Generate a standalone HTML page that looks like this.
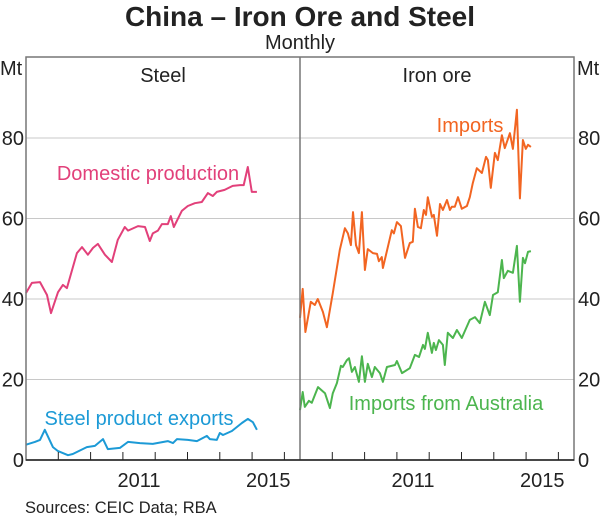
<!DOCTYPE html>
<html><head><meta charset="utf-8"><style>
body{margin:0;background:#fff;}
svg{display:block;font-family:"Liberation Sans",Arial,sans-serif;}
</style></head><body>
<svg id="chart" width="600" height="518" viewBox="0 0 600 518" xmlns="http://www.w3.org/2000/svg">
<text x="300" y="26" text-anchor="middle" font-size="28" font-weight="bold" fill="#222">China – Iron Ore and Steel</text>
<text x="300" y="49" text-anchor="middle" font-size="20" fill="#222">Monthly</text>
<text x="0" y="75" font-size="20" fill="#222">Mt</text>
<text x="577" y="75" font-size="20" fill="#222">Mt</text>
<text x="163" y="82" text-anchor="middle" font-size="20" fill="#222">Steel</text>
<text x="437" y="82" text-anchor="middle" font-size="20" fill="#222">Iron ore</text>
<g id="grid"></g>
<g id="series"></g>
<g id="frame"></g>
<text x="148" y="180" text-anchor="middle" font-size="20" fill="#e2407a">Domestic production</text>
<text x="139" y="425" text-anchor="middle" font-size="20" fill="#1c9ad6">Steel product exports</text>
<text x="470" y="132" text-anchor="middle" font-size="20" fill="#f26522">Imports</text>
<text x="446" y="410" text-anchor="middle" font-size="20" fill="#4cb54e">Imports from Australia</text>
<text x="25" y="513" font-size="16.5" fill="#222">Sources:  CEIC Data; RBA</text>
</svg>
<script>
const yTicks=[0,20,40,60,80];
const yearLabels=["2011","2015"];
const yearLabelMonths=[42,90];
const domM=[0,2.2,5.2,7.8,9.3,11.9,13.7,15.2,18.9,20.8,23,24.9,26.7,29.3,31.9,34.1,36.7,37.9,41.6,44.2,46,47.1,49,50.5,52.7,53.8,54.9,57.9,60.1,62.7,65.3,67.6,69.4,70.9,73.8,76.8,79.5,80.9,82.4,83.9,85.8];
const domV=[41.5,44,44.2,41,36.5,41.7,43.5,42.7,51.4,52.9,51,52.7,53.7,51,49.2,54.7,57.9,57,58.1,57.9,54.4,56.3,57,58.6,58.6,60.6,57.9,61.9,63.1,63.8,64.1,66.3,65.6,66.6,67.1,68.1,68.3,68.3,72.8,66.6,66.6];
const expM=[0,3.3,5.2,7,10,11.9,15.6,17.4,22.6,25.6,28.6,30.4,34.9,37.9,42.3,47.1,52.7,54.6,56.1,60.1,63.5,67.2,68.3,70.9,72,73.2,76.5,80.2,82.4,84.3,85.8];
const expV=[3.8,4.5,5,7.5,3.2,2.2,1.2,1.5,3.2,3.5,5.2,2.7,3,4.5,4.2,4,4.7,4.2,5.2,5,4.7,6,5.2,5,6.7,6.2,7.2,9.2,10.2,9.4,7.5];
const impM=[0,1,2,4,5.5,6.6,8.5,10,12.2,14.8,16.7,17.8,18.9,19.7,20.8,21.9,23,24.1,25.2,27.1,28.6,29.3,30.4,30.8,34.1,34.9,36,37.5,39,40.8,41.9,42.7,43.8,44.9,46,46.8,47.5,49,49.7,50.9,52,53.1,54.6,55.7,56.4,57.5,58.7,60.1,62,63.1,64.2,65.7,67.6,69.1,69.8,70.9,72.4,73.5,75,76.1,78,79.1,80.6,81.7,82.8,83.9,84.7,85.8];
const impV=[35.3,42.5,31.8,39.3,38.5,40,36.8,33,41.5,52.2,57.6,56.3,53.4,61.6,53.4,51.4,61.6,47.2,52.4,51.4,51.2,49.4,50.4,47.7,57.1,56.3,59.1,58.1,50.2,53.9,54.2,62.4,57.9,57.6,62.1,60.9,65.3,60.4,60.9,55.7,63.6,62.1,64.6,62.1,62.9,62.9,65.3,62.4,63.1,65.3,68.8,72.5,71.3,75.3,74.5,67.6,76.3,74.5,80.7,77.5,81.2,77.3,87,65,79.5,77.3,78.3,77.8];
const ausM=[0,1,1.8,3.3,4.4,6.7,9.3,11.1,12.2,13.7,15.2,15.9,17.4,18.2,19.3,20.4,21.9,23,24.1,25.2,26.7,27.8,29.7,30.8,32.3,35.3,36,37.9,40.8,42.7,44.2,45.7,46.4,47.5,49,49.7,50.5,51.6,53.1,53.8,54.9,56.8,58.3,60.1,63.1,65,66.8,68.7,70.5,71.7,73.5,75,75.7,77.2,79.1,80.6,81.7,82.8,83.6,84.7,85.8];
const ausV=[12.4,16.9,13.2,14.7,14.2,18.1,16.6,12.9,16.6,19.1,23.4,23.1,24.8,25.3,21.9,23.1,19.4,25.8,19.4,23.9,20.6,23.1,21.6,19.4,23.1,23.6,24.6,21.6,22.8,26.1,25.6,28.6,27.6,31.6,26.6,29.1,27.3,29.8,28.6,23.6,31.6,30.3,32.3,30.3,34.8,35.5,34,39.3,36,41,41.7,49.7,45.2,47,46.5,53.2,39.3,50.2,48.9,51.7,51.9];

const NS="http://www.w3.org/2000/svg";
const L=26,MID=300,R=574,TOP=57,BOT=460;
const pxPerMonth=(MID-L)/101.8;
function y(v){return BOT-v*(BOT-138)/80;}
function xL(m){return L+m*pxPerMonth;}
function xR(m){return MID+m*pxPerMonth;}
function mk(tag,attrs,parent){const e=document.createElementNS(NS,tag);for(const k in attrs)e.setAttribute(k,attrs[k]);parent.appendChild(e);return e;}
const grid=document.getElementById('grid'),ser=document.getElementById('series'),frame=document.getElementById('frame'),svg=document.getElementById('chart');
yTicks.forEach(t=>{
  if(t>0){const g=mk('line',{x1:L,x2:R,y1:y(t),y2:y(t),stroke:'#c8c8c8','stroke-width':1},grid);
  
  }
  const a=mk('text',{x:24,y:y(t)+7,'text-anchor':'end','font-size':20,fill:'#222'},svg);a.textContent=t;
  
  
  const b=mk('text',{x:578,y:y(t)+7,'font-size':20,fill:'#222'},svg);b.textContent=t;
  
  
});
function line(ms,vs,xf,color,name){
  const d=ms.map((m,i)=>(i?'L':'M')+xf(m).toFixed(1)+','+y(vs[i]).toFixed(1)).join('');
  const p=mk('path',{d:d,fill:'none',stroke:color,'stroke-width':2,'stroke-linejoin':'round'},ser);
  
  
}
line(domM,domV,xL,'#e2407a','domestic-production-line');
line(expM,expV,xL,'#1c9ad6','steel-exports-line');
line(impM,impV,xR,'#f26522','imports-line');
line(ausM,ausV,xR,'#4cb54e','imports-australia-line');
const fr=mk('rect',{x:L,y:TOP,width:R-L,height:BOT-TOP,fill:'none',stroke:'#777','stroke-width':1.5},frame);


const dv=mk('line',{x1:MID,x2:MID,y1:TOP,y2:BOT,stroke:'#777','stroke-width':1.5},frame);


const ax=mk('line',{x1:L,x2:R,y1:BOT,y2:BOT,stroke:'#222','stroke-width':1.5},frame);


[xL,xR].forEach(xf=>{
  for(let yr=1;yr<=8;yr++){const tk=mk('line',{x1:xf(yr*12),x2:xf(yr*12),y1:BOT,y2:BOT-8,stroke:'#222','stroke-width':1},frame);
  
  }
  yearLabels.forEach((lb,i)=>{const t=mk('text',{x:xf(yearLabelMonths[i]),y:487,'text-anchor':'middle','font-size':20,fill:'#222'},svg);t.textContent=lb;
  
  });
});
</script>
</body></html>
